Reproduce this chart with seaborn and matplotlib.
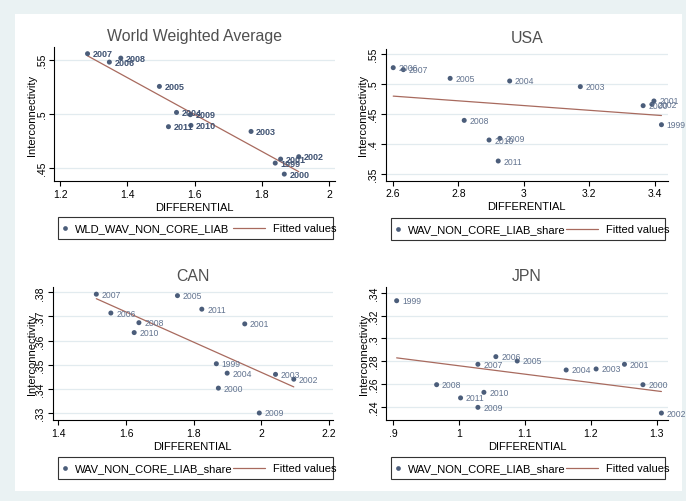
import matplotlib
matplotlib.use("Agg")
import matplotlib.pyplot as plt
import seaborn as sns
import numpy as np
from matplotlib.transforms import Affine2D
from matplotlib.patches import Rectangle
from matplotlib.lines import Line2D

# ---------------- data ----------------
years = [1999, 2000, 2001, 2002, 2003, 2004, 2005, 2006, 2007, 2008, 2009, 2010, 2011]

wld_x = [1.840, 1.867, 1.856, 1.910, 1.768, 1.546, 1.495, 1.346, 1.281, 1.380, 1.587, 1.589, 1.522]
wld_y = [.4543, .4441, .4580, .4602, .4836, .5012, .5253, .5478, .5556, .5515, .4991, .4892, .4880]

usa_x = [3.421, 3.365, 3.398, 3.392, 3.173, 2.957, 2.775, 2.601, 2.632, 2.818, 2.927, 2.894, 2.922]
usa_y = [.4322, .4639, .4717, .4661, .4956, .5050, .5094, .5272, .5239, .4394, .4094, .4067, .3717]

can_x = [1.867, 1.873, 1.951, 2.096, 2.042, 1.899, 1.752, 1.555, 1.512, 1.638, 1.994, 1.624, 1.824]
can_y = [.3504, .3403, .3669, .3440, .3460, .3465, .3786, .3714, .3792, .3674, .3300, .3633, .3730]

jpn_x = [.9056, 1.279, 1.251, 1.307, 1.208, 1.1626, 1.0884, 1.056, 1.0288, .9662, 1.0288, 1.0379, 1.0025]
jpn_y = [.3330, .2593, .2772, .2344, .2731, .2722, .2801, .2839, .2772, .2593, .2394, .2526, .2477]

titles = ["World Weighted Average", "USA", "CAN", "JPN"]
series_labels = ["WLD_WAV_NON_CORE_LIAB", "WAV_NON_CORE_LIAB_share",
                 "WAV_NON_CORE_LIAB_share", "WAV_NON_CORE_LIAB_share"]
fit_label = "Fitted values"
x_title = "DIFFERENTIAL"
y_title = "Interconnectivity"

wld_xticks = [1.2, 1.4, 1.6, 1.8, 2]
wld_xtl = ["1.2", "1.4", "1.6", "1.8", "2"]
wld_yticks = [.45, .5, .55]
wld_ytl = [".45", ".5", ".55"]

usa_xticks = [2.6, 2.8, 3, 3.2, 3.4]
usa_xtl = ["2.6", "2.8", "3", "3.2", "3.4"]
usa_yticks = [.35, .4, .45, .5, .55]
usa_ytl = [".35", ".4", ".45", ".5", ".55"]

can_xticks = [1.4, 1.6, 1.8, 2, 2.2]
can_xtl = ["1.4", "1.6", "1.8", "2", "2.2"]
can_yticks = [.33, .34, .35, .36, .37, .38]
can_ytl = [".33", ".34", ".35", ".36", ".37", ".38"]

jpn_xticks = [.9, 1, 1.1, 1.2, 1.3]
jpn_xtl = [".9", "1", "1.1", "1.2", "1.3"]
jpn_yticks = [.24, .26, .28, .3, .32, .34]
jpn_ytl = [".24", ".26", ".28", ".3", ".32", ".34"]

# ---------------- style ----------------
sns.set_theme(style="white")
plt.rcParams['font.family'] = ['Liberation Sans', 'DejaVu Sans']

W, H = 686, 502
BG = "#EAF2F3"
MARK = "#4b5d7a"
LAB = "#62738f"
FIT = "#a86a5e"
GRID = "#e2ebef"

fig = plt.figure(figsize=(W / 100, H / 100), dpi=100, facecolor=BG)
pix = Affine2D().scale(1 / W, -1 / H).translate(0, 1) + fig.transFigure

fig.add_artist(Rectangle((15, 15), 667, 477, transform=pix, facecolor="white",
                         edgecolor="none", zorder=-10))

# layout: axes [left, top, right, bottom] in pixels, limits, ylabel x
layout = [
    dict(box=(54.3, 48, 335, 182), xlim=(1.182, 2.018), ylim=(.4377, .5618), ylx=-0.060),
    dict(box=(385.7, 50, 668, 181.7), xlim=(2.578, 3.441), ylim=(.3389, .5583), ylx=-0.063),
    dict(box=(52.7, 287.7, 333, 421), xlim=(1.383, 2.212), ylim=(.3271, .3823), ylx=-0.055),
    dict(box=(386.3, 287.7, 668, 421), xlim=(.8899, 1.317), ylim=(.2283, .3453), ylx=-0.061),
]
legend_boxes = [(58, 218, 275), (390.7, 219, 274), (58, 457.7, 275), (390.7, 458, 274)]

datasets = [(wld_x, wld_y), (usa_x, usa_y), (can_x, can_y), (jpn_x, jpn_y)]
ticks = [(wld_xticks, wld_xtl, wld_yticks, wld_ytl),
         (usa_xticks, usa_xtl, usa_yticks, usa_ytl),
         (can_xticks, can_xtl, can_yticks, can_ytl),
         (jpn_xticks, jpn_xtl, jpn_yticks, jpn_ytl)]

for i in range(4):
    L = layout[i]
    l, t, r, b = L["box"]
    ax = fig.add_axes([l / W, 1 - b / H, (r - l) / W, (b - t) / H])
    ax.set_facecolor("white")
    xs, ys = datasets[i]

    sns.scatterplot(x=xs, y=ys, ax=ax, s=13, color=MARK, edgecolor="none",
                    linewidth=0, zorder=3, legend=False)
    sns.regplot(x=np.array(xs), y=np.array(ys), ax=ax, scatter=False, ci=None,
                truncate=True, line_kws=dict(color=FIT, lw=0.9, zorder=2))

    for yr, xv, yv in zip(years, xs, ys):
        if i == 0:
            ax.annotate(str(yr), (xv, yv), xytext=(3.6, 0), textcoords="offset points",
                        ha="left", va="center", fontsize=6.5, fontweight="bold",
                        color="#3f5272", zorder=4)
        else:
            ax.annotate(str(yr), (xv, yv), xytext=(3.8, 0), textcoords="offset points",
                        ha="left", va="center", fontsize=6.2, color=LAB, zorder=4)

    xt, xtl, yt, ytl = ticks[i]
    ax.set_xlim(*L["xlim"])
    ax.set_ylim(*L["ylim"])
    ax.set_xticks(xt)
    ax.set_xticklabels(xtl)
    ax.set_yticks(yt)
    ax.set_yticklabels(ytl, rotation=90, va="center")
    ax.yaxis.grid(True, color=GRID, lw=0.9)
    ax.xaxis.grid(False)
    ax.set_axisbelow(True)
    for s in ["top", "right"]:
        ax.spines[s].set_visible(False)
    for s in ["left", "bottom"]:
        ax.spines[s].set_color("black")
        ax.spines[s].set_linewidth(0.8)
    ax.tick_params(axis="both", direction="out", length=3.6, width=0.8, color="black",
                   labelsize=7.5, pad=2, labelcolor="black", left=True, bottom=True)
    ax.set_title(titles[i], fontsize=11.4, color="#505050", pad=5)
    ax.set_xlabel(x_title, fontsize=8, color="black", labelpad=2)
    ax.set_ylabel(y_title, fontsize=8, color="black")
    ax.yaxis.set_label_coords(L["ylx"], 0.5)

    # legend (Stata-style box below the plot)
    bx, by, bw = legend_boxes[i]
    fig.add_artist(Rectangle((bx, by), bw, 22, transform=pix, facecolor="white",
                             edgecolor="#333333", lw=0.8, zorder=5))
    fig.add_artist(Line2D([bx + 7], [by + 11], marker="o", ms=3.4, color=MARK,
                          mec="none", ls="none", transform=pix, zorder=6))
    fig.text(bx + 17, by + 11.5, series_labels[i], transform=pix, ha="left",
             va="center", fontsize=8, color="black", zorder=6)
    fig.add_artist(Line2D([bx + 175, bx + 207], [by + 11, by + 11], color=FIT, lw=0.9,
                          transform=pix, zorder=6))
    fig.text(bx + 215, by + 11.5, fit_label, transform=pix, ha="left",
             va="center", fontsize=8, color="black", zorder=6)

fig.savefig("out.png", dpi=100, facecolor=BG)
